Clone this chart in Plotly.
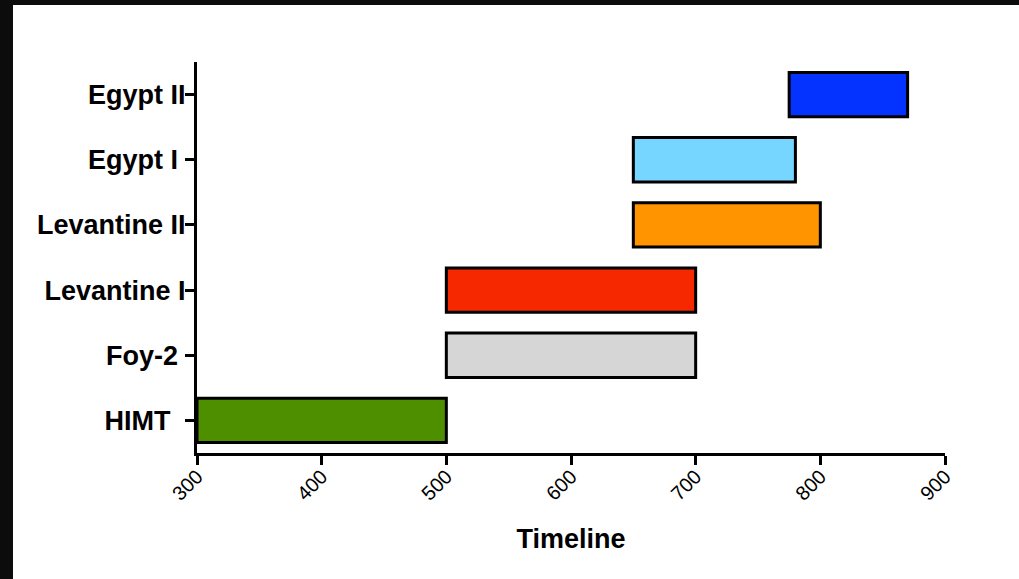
import plotly.graph_objects as go

categories = ["HIMT", "Foy-2", "Levantine I", "Levantine II", "Egypt I", "Egypt II"]
tick_labels = ["HIMT\u00a0\u00a0", "Foy-2\u00a0", "Levantine I", "Levantine II", "Egypt I\u00a0", "Egypt II"]
starts = [300, 500, 500, 650, 650, 775]
ends = [500, 700, 700, 800, 780, 870]
colors = ["#4E8F00", "#D6D6D6", "#F52800", "#FF9300", "#76D6FF", "#0433FF"]
x_ticks = [300, 400, 500, 600, 700, 800, 900]

durations = [e - s for s, e in zip(starts, ends)]

fig = go.Figure()
fig.add_trace(go.Bar(
    y=categories, x=durations, base=starts, orientation="h",
    marker=dict(color=colors, line=dict(color="black", width=3)),
    width=0.68, showlegend=False, hoverinfo="skip",
))

font_family = "Liberation Sans, Arial, sans-serif"

fig.update_layout(
    width=1019, height=579,
    margin=dict(l=197, r=74, t=62, b=126),
    paper_bgcolor="white", plot_bgcolor="white",
    shapes=[
        dict(type="rect", xref="paper", yref="paper", x0=-0.3, x1=(13 - 197) / 748,
             y0=-0.5, y1=1.3, fillcolor="#0c0c0c", line=dict(width=0), layer="below"),
        dict(type="rect", xref="paper", yref="paper", x0=-0.3, x1=1.2,
             y0=(453 - 5) / 391, y1=1.3, fillcolor="#0c0c0c", line=dict(width=0), layer="below"),
    ],
)

fig.update_xaxes(
    range=[300, 900], tickvals=x_ticks, ticktext=[str(v) for v in x_ticks],
    tickangle=-45, ticks="outside", ticklen=9, tickwidth=3, tickcolor="black",
    ticklabelstandoff=-8,
    showline=True, linewidth=3, linecolor="black", showgrid=False, zeroline=False,
    tickfont=dict(family=font_family, size=20, color="black"),
    title=dict(text="Timeline", standoff=26,
               font=dict(family=font_family, size=27, color="black", weight="bold")),
)
fig.update_yaxes(
    type="category", categoryorder="array", categoryarray=categories,
    range=[-0.5, 5.5], tickvals=categories, ticktext=tick_labels,
    ticks="outside", ticklen=9, tickwidth=3, tickcolor="black",
    ticklabelstandoff=-6,
    showline=True, linewidth=3, linecolor="black", showgrid=False, zeroline=False,
    tickfont=dict(family=font_family, size=27, color="black", weight="bold"),
)

fig.write_html(
    "out.html",
    config={"displayModeBar": False},
    post_script="document.body.style.margin='0';document.body.style.overflow='hidden';",
)
